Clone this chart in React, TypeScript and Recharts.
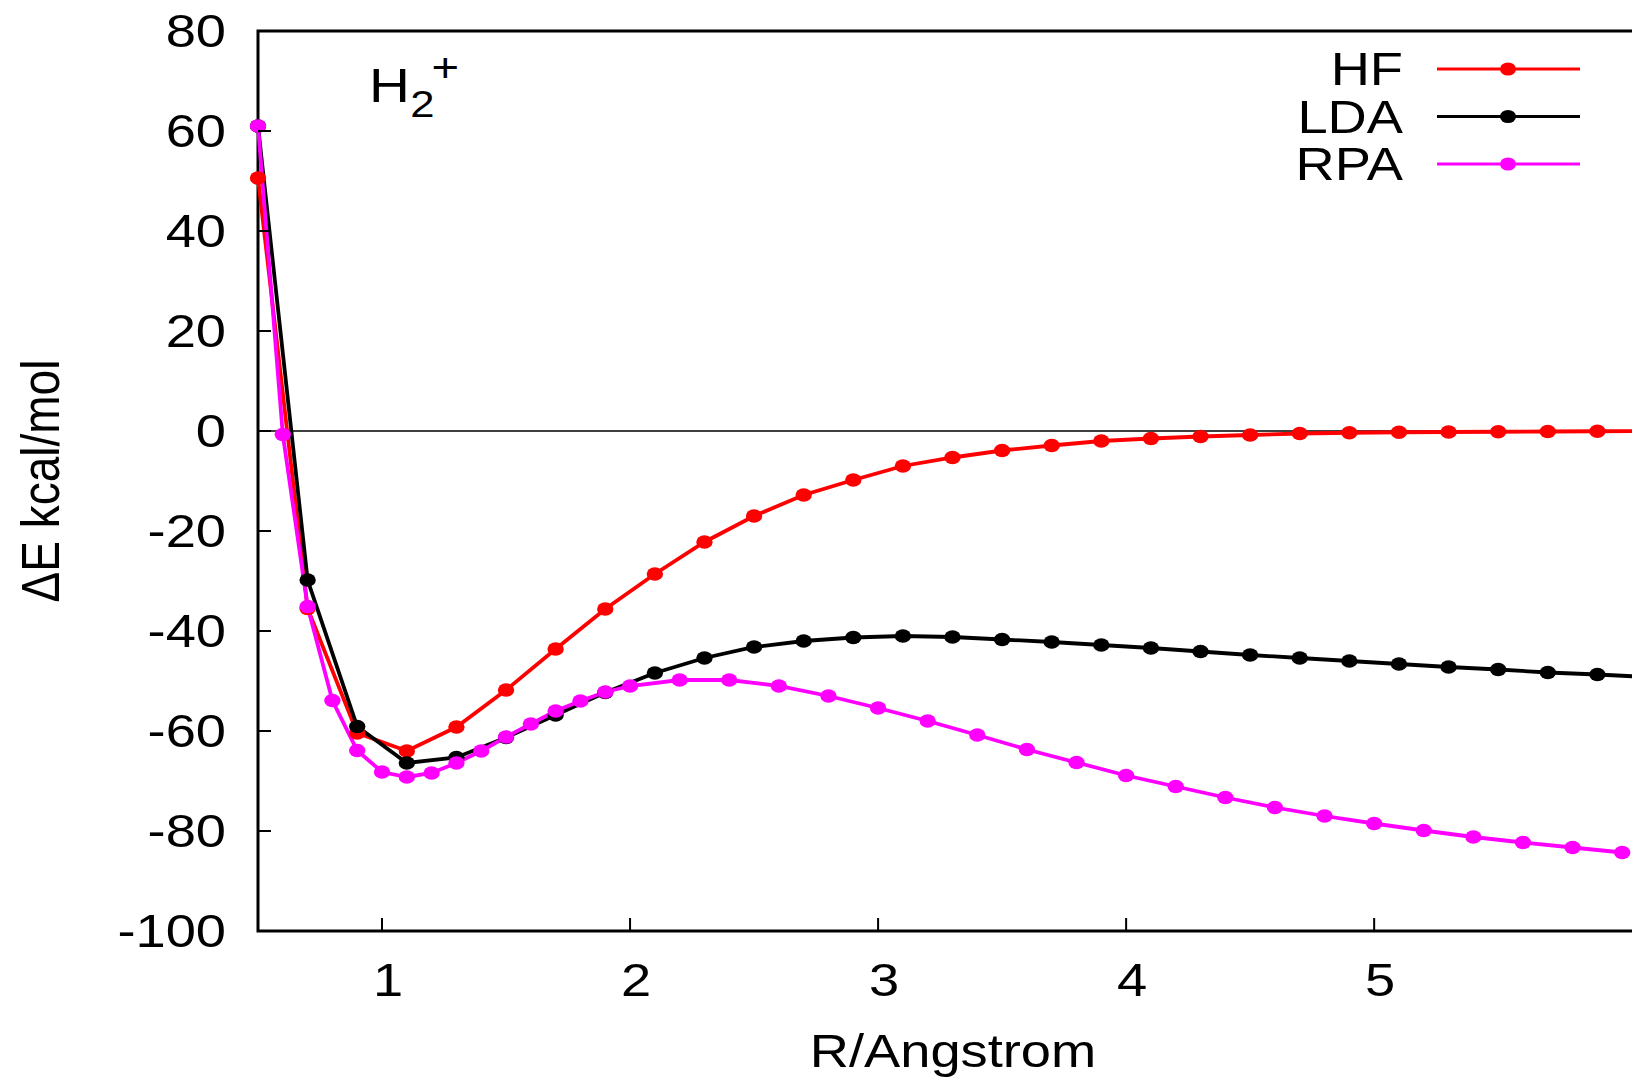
import React from 'react';
import { LineChart, Line, XAxis, YAxis, ReferenceLine, ReferenceArea, Legend } from 'recharts';

// ---- data ----
const hfR = [0.5, 0.7, 0.9, 1.1, 1.3, 1.5, 1.7, 1.9, 2.1, 2.3, 2.5, 2.7, 2.9, 3.1, 3.3, 3.5, 3.7, 3.9, 4.1, 4.3, 4.5, 4.7, 4.9, 5.1, 5.3, 5.5, 5.7, 5.9, 6.1];
const hfE = [50.6, -35.5, -60.4, -64.0, -59.2, -51.8, -43.6, -35.6, -28.6, -22.2, -17.0, -12.8, -9.8, -7.0, -5.3, -3.9, -2.9, -2.0, -1.5, -1.1, -0.8, -0.5, -0.35, -0.25, -0.2, -0.15, -0.1, -0.05, -0.03];

const ldaR = [0.5, 0.7, 0.9, 1.1, 1.3, 1.5, 1.7, 1.9, 2.1, 2.3, 2.5, 2.7, 2.9, 3.1, 3.3, 3.5, 3.7, 3.9, 4.1, 4.3, 4.5, 4.7, 4.9, 5.1, 5.3, 5.5, 5.7, 5.9, 6.1];
const ldaE = [61.0, -29.8, -59.1, -66.4, -65.3, -61.3, -56.8, -52.3, -48.4, -45.4, -43.2, -42.0, -41.3, -41.0, -41.2, -41.7, -42.2, -42.8, -43.4, -44.1, -44.8, -45.4, -46.0, -46.6, -47.2, -47.7, -48.3, -48.7, -49.2];

const rpaR = [0.5, 0.6, 0.7, 0.8, 0.9, 1.0, 1.1, 1.2, 1.3, 1.4, 1.5, 1.6, 1.7, 1.8, 1.9, 2.0, 2.2, 2.4, 2.6, 2.8, 3.0, 3.2, 3.4, 3.6, 3.8, 4.0, 4.2, 4.4, 4.6, 4.8, 5.0, 5.2, 5.4, 5.6, 5.8, 6.0];
const rpaE = [61.0, -0.7, -35.1, -53.9, -63.9, -68.2, -69.2, -68.4, -66.4, -64.0, -61.2, -58.6, -56.0, -54.0, -52.2, -51.0, -49.8, -49.8, -51.0, -53.0, -55.4, -58.0, -60.8, -63.7, -66.3, -68.9, -71.1, -73.3, -75.3, -77.0, -78.5, -79.9, -81.2, -82.3, -83.3, -84.3];

const seriesNames = ['HF', 'LDA', 'RPA'];
const seriesColors = ['#ff0000', '#000000', '#ff00ff'];

const xTicks = [1, 2, 3, 4, 5];
const yTicks = [-100, -80, -60, -40, -20, 0, 20, 40, 60, 80];
const xDomain = [0.5, 6.1];
const yDomain = [-100, 80];

const xLabel = 'R/Angstrom';
const yLabel = 'ΔE kcal/mol';

const toPoints = (xs: number[], ys: number[]) => xs.map((r, i) => ({ r, e: ys[i] }));
const hfData = toPoints(hfR, hfE);
const ldaData = toPoints(ldaR, ldaE);
const rpaData = toPoints(rpaR, rpaE);

// ---- style ----
const FONT = '"Liberation Sans", Arial, Helvetica, sans-serif';
const FS = 46;
const SX = 1.18;
const TICK = 13;
const LW = 3.8;

const makeDot = (color: string) => (props: any) => {
  const { cx, cy, index } = props;
  if (cx == null || cy == null) return <g key={`d-${index}`} />;
  return <ellipse key={`d-${index}`} cx={cx} cy={cy} rx={8.2} ry={6.8} fill={color} />;
};

const BottomTick = (props: any) => {
  const { x, y, payload } = props;
  return (
    <g>
      <line x1={x} x2={x} y1={y} y2={y - TICK} stroke="#000" strokeWidth={2} />
      <text transform={`translate(${x + 6},${y + 65}) scale(${SX},1)`} textAnchor="middle" fontSize={FS} fontFamily={FONT} fill="#000">
        {payload.value}
      </text>
    </g>
  );
};

const TopTick = (props: any) => {
  const { x, y } = props;
  return <line x1={x} x2={x} y1={y} y2={y + TICK} stroke="#000" strokeWidth={2} />;
};

const LeftTick = (props: any) => {
  const { x, y, payload } = props;
  return (
    <g>
      <line x1={x} x2={x + TICK} y1={y} y2={y} stroke="#000" strokeWidth={2} />
      <text transform={`translate(${x - 32},${y + 16}) scale(${SX},1)`} textAnchor="end" fontSize={FS} fontFamily={FONT} fill="#000">
        {payload.value}
      </text>
    </g>
  );
};

const RightTick = (props: any) => {
  const { x, y } = props;
  return <line x1={x} x2={x - TICK} y1={y} y2={y} stroke="#000" strokeWidth={2} />;
};

const renderLegend = (props: any) => {
  const payload = props.payload || [];
  return (
    <svg width={340} height={170} style={{ overflow: 'visible', display: 'block' }}>
      {payload.map((entry: any, i: number) => {
        const base = 45 + i * 47.5;
        const ly = base - 16;
        const color = entry.color;
        return (
          <g key={`lg-${i}`}>
            <text transform={`translate(103,${base}) scale(${SX},1)`} textAnchor="end" fontSize={FS} fontFamily={FONT} fill="#000">
              {entry.value}
            </text>
            <line x1={137} x2={280} y1={ly} y2={ly} stroke={color} strokeWidth={3.2} />
            <ellipse cx={208} cy={ly} rx={8} ry={6.6} fill={color} />
          </g>
        );
      })}
    </svg>
  );
};

export default function App() {
  return (
    <div style={{ position: 'absolute', left: 0, top: 0, width: 1632, height: 1078, overflow: 'hidden', background: '#fff' }}>
      <LineChart width={1700} height={1078} margin={{ top: 30, right: 52, bottom: 47, left: 158 }}>
        <XAxis dataKey="r" type="number" domain={xDomain} ticks={xTicks} interval={0} height={100}
          axisLine={false} tickLine={false} tickSize={0} tickMargin={0} tick={BottomTick} />
        <XAxis xAxisId="top" orientation="top" type="number" domain={xDomain} ticks={xTicks} interval={0} height={1}
          axisLine={false} tickLine={false} tickSize={0} tickMargin={0} tick={TopTick} />
        <YAxis type="number" domain={yDomain} ticks={yTicks} interval={0} width={100}
          axisLine={false} tickLine={false} tickSize={0} tickMargin={0} tick={LeftTick} />
        <YAxis yAxisId="right" orientation="right" type="number" domain={yDomain} ticks={yTicks} interval={0} width={1}
          axisLine={false} tickLine={false} tickSize={0} tickMargin={0} tick={RightTick} />
        <ReferenceLine y={0} stroke="#000" strokeWidth={1.5} />
        <ReferenceArea x1={xDomain[0]} x2={xDomain[1]} y1={yDomain[0]} y2={yDomain[1]} fill="none" fillOpacity={0} stroke="#000" strokeWidth={3} />
        <Line data={hfData} dataKey="e" name={seriesNames[0]} type="linear" stroke={seriesColors[0]} strokeWidth={LW}
          dot={makeDot(seriesColors[0])} activeDot={false} isAnimationActive={false} />
        <Line data={ldaData} dataKey="e" name={seriesNames[1]} type="linear" stroke={seriesColors[1]} strokeWidth={LW}
          dot={makeDot(seriesColors[1])} activeDot={false} isAnimationActive={false} />
        <Line data={rpaData} dataKey="e" name={seriesNames[2]} type="linear" stroke={seriesColors[2]} strokeWidth={LW}
          dot={makeDot(seriesColors[2])} activeDot={false} isAnimationActive={false} />
        <Legend content={renderLegend} wrapperStyle={{ position: 'absolute', left: 1300, top: 40, width: 0, height: 0, overflow: 'visible' }} />
        <g transform={`translate(369,102) scale(${SX},1)`}>
          <text x={0} y={0} fontSize={48} fontFamily={FONT} fill="#000">H</text>
          <text x={35} y={15} fontSize={37} fontFamily={FONT} fill="#000">2</text>
          <text x={53} y={-20} fontSize={40} fontFamily={FONT} fill="#000">+</text>
        </g>
        <text transform={`translate(953,1067) scale(${SX},1)`} textAnchor="middle" fontSize={FS} fontFamily={FONT} fill="#000">{xLabel}</text>
        <text transform={`translate(59,481) rotate(-90) scale(1,${SX})`} textAnchor="middle" fontSize={FS} fontFamily={FONT} fill="#000">{yLabel}</text>
      </LineChart>
    </div>
  );
}
